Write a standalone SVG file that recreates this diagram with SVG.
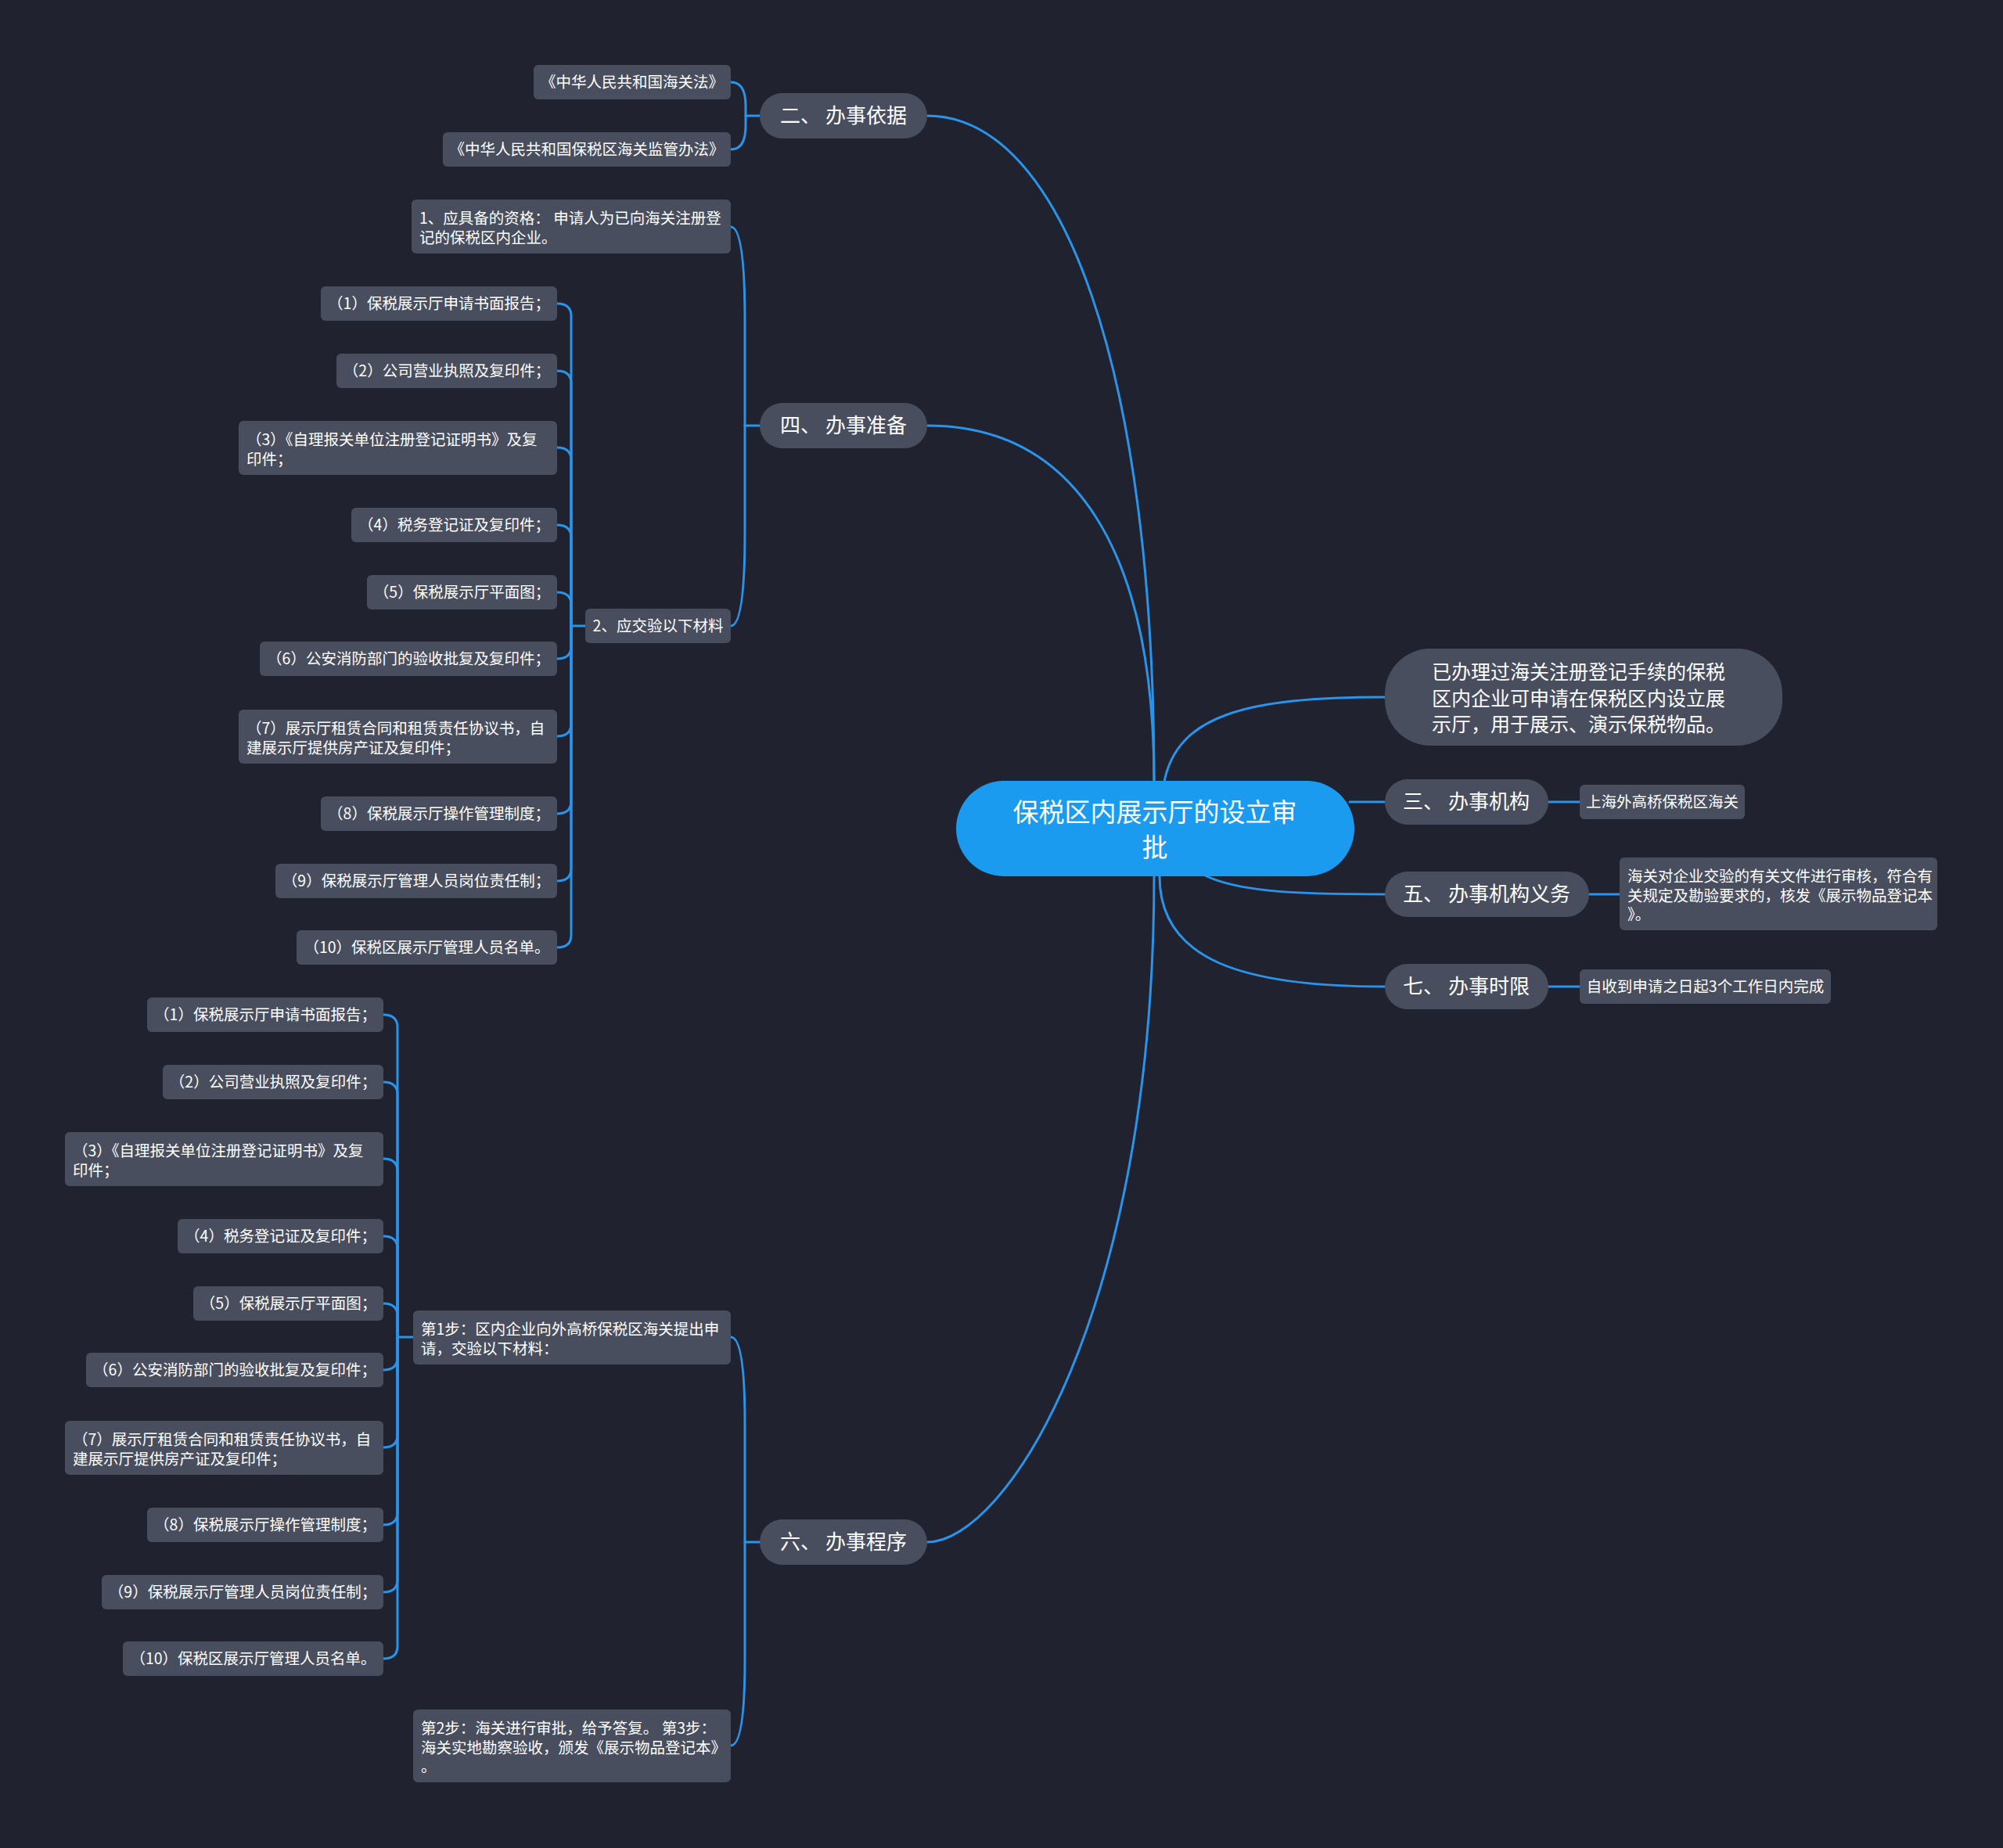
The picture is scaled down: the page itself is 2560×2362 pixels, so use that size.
<svg xmlns="http://www.w3.org/2000/svg" width="2560" height="2362" viewBox="0 0 2560 2362">
<style>
.bg{fill:#20232f}
.l1{fill:#484e5d}
.lf{fill:#484e5d}
.root{fill:#1a9bf0}
.ln{fill:none;stroke:#2a93ea;stroke-width:3;stroke-linecap:round}
text{font-family:"Noto Sans CJK SC","Noto Sans",sans-serif;fill:#ffffff}
.t1{font-size:26px;text-anchor:middle}
.tl{font-size:19.5px;text-anchor:middle}
.tm{font-size:19.5px}
.tr{font-size:33px;text-anchor:middle}
.ts{font-size:25px}
</style>
<rect class="bg" x="0" y="0" width="2560" height="2362"/>

<g id="connectors">
  <!-- root to level 1 -->
  <path class="ln" d="M1475 999 C1475 480 1360 148 1185 148"/>
  <path class="ln" d="M1475 999 C1475 705 1374 544 1185 544"/>
  <path class="ln" d="M1475 1120 C1475 1673 1287 1971 1185 1971"/>
  <path class="ln" d="M1488 999 C1505 915 1590 891 1770 891"/>
  <path class="ln" d="M1725 1025 L1770 1025"/>
  <path class="ln" d="M1540 1119 C1580 1138 1640 1143 1770 1143"/>
  <path class="ln" d="M1482 1120 C1482 1228 1590 1261 1770 1261"/>
  <!-- right leaves -->
  <path class="ln" d="M1979 1025 L2019 1025"/>
  <path class="ln" d="M2031 1143 L2070 1143"/>
  <path class="ln" d="M1979 1261 L2019 1261"/>
  <!-- 二 group -->
  <path class="ln" d="M971 148 L953 148"/>
  <path class="ln" d="M953 148 L953 135 Q953 105 934 105"/>
  <path class="ln" d="M953 148 L953 161 Q953 191 934 191"/>
  <!-- 四 group -->
  <path class="ln" d="M971 544 L952 544"/>
  <path class="ln" d="M952 544 L952 410 Q952 290 934 290"/>
  <path class="ln" d="M952 544 L952 680 Q952 800 934 800"/>
  <!-- 2、材料 group -->
  <path class="ln" d="M748 800 L730 800"/>
  <path class="ln" d="M730 800 L730 404 Q730 388 712 388"/>
  <path class="ln" d="M730 800 L730 490 Q730 474 712 474"/>
  <path class="ln" d="M730 800 L730 588 Q730 572 712 572"/>
  <path class="ln" d="M730 800 L730 687 Q730 671 712 671"/>
  <path class="ln" d="M730 800 L730 773 Q730 757 712 757"/>
  <path class="ln" d="M730 800 L730 826 Q730 842 712 842"/>
  <path class="ln" d="M730 800 L730 925 Q730 941 712 941"/>
  <path class="ln" d="M730 800 L730 1024 Q730 1040 712 1040"/>
  <path class="ln" d="M730 800 L730 1110 Q730 1126 712 1126"/>
  <path class="ln" d="M730 800 L730 1195 Q730 1211 712 1211"/>
  <!-- 六 group -->
  <path class="ln" d="M971 1971 L952 1971"/>
  <path class="ln" d="M952 1971 L952 1819 Q952 1709 934 1709"/>
  <path class="ln" d="M952 1971 L952 2121 Q952 2231 934 2231"/>
  <!-- 第1步 group -->
  <path class="ln" d="M528 1709 L508 1709"/>
  <path class="ln" d="M508 1709 L508 1313 Q508 1297 490 1297"/>
  <path class="ln" d="M508 1709 L508 1399 Q508 1383 490 1383"/>
  <path class="ln" d="M508 1709 L508 1497 Q508 1481 490 1481"/>
  <path class="ln" d="M508 1709 L508 1596 Q508 1580 490 1580"/>
  <path class="ln" d="M508 1709 L508 1682 Q508 1666 490 1666"/>
  <path class="ln" d="M508 1709 L508 1735 Q508 1751 490 1751"/>
  <path class="ln" d="M508 1709 L508 1834 Q508 1850 490 1850"/>
  <path class="ln" d="M508 1709 L508 1933 Q508 1949 490 1949"/>
  <path class="ln" d="M508 1709 L508 2019 Q508 2035 490 2035"/>
  <path class="ln" d="M508 1709 L508 2104 Q508 2120 490 2120"/>
</g>

<g id="root">
  <rect class="root" x="1222" y="998" width="509" height="122" rx="61"/>
  <text class="tr" x="1476" y="1050">保税区内展示厅的设立审</text>
  <text class="tr" x="1476" y="1095">批</text>
</g>

<g id="summary">
  <rect class="l1" x="1770" y="829" width="508" height="124" rx="58"/>
  <text class="ts" x="1830" y="868">已办理过海关注册登记手续的保税</text>
  <text class="ts" x="1830" y="902">区内企业可申请在保税区内设立展</text>
  <text class="ts" x="1830" y="935">示厅，用于展示、演示保税物品。</text>
</g>

<g id="n2">
  <rect class="l1" x="971" y="119" width="214" height="58" rx="29"/>
  <text class="t1" x="1078" y="157">二、 办事依据</text>
</g>
<g id="n4">
  <rect class="l1" x="971" y="515" width="214" height="58" rx="29"/>
  <text class="t1" x="1078" y="553">四、 办事准备</text>
</g>
<g id="n6">
  <rect class="l1" x="971" y="1942" width="214" height="58" rx="29"/>
  <text class="t1" x="1078" y="1980">六、 办事程序</text>
</g>
<g id="n3">
  <rect class="l1" x="1770" y="996" width="209" height="58" rx="29"/>
  <text class="t1" x="1874" y="1034">三、 办事机构</text>
</g>
<g id="n5">
  <rect class="l1" x="1770" y="1114" width="261" height="58" rx="29"/>
  <text class="t1" x="1900" y="1152">五、 办事机构义务</text>
</g>
<g id="n7">
  <rect class="l1" x="1770" y="1232" width="209" height="58" rx="29"/>
  <text class="t1" x="1874" y="1270">七、 办事时限</text>
</g>

<g id="n3-1">
  <rect class="lf" x="2019" y="1003" width="211" height="44" rx="6"/>
  <text class="tl" x="2124.5" y="1032">上海外高桥保税区海关</text>
</g>
<g id="n5-1">
  <rect class="lf" x="2070" y="1096" width="406" height="93" rx="6"/>
  <text class="tm" x="2080" y="1127">海关对企业交验的有关文件进行审核，符合有</text>
  <text class="tm" x="2080" y="1151.5">关规定及勘验要求的，核发《展示物品登记本</text>
  <text class="tm" x="2080" y="1176">》。</text>
</g>
<g id="n7-1">
  <rect class="lf" x="2019" y="1239" width="321" height="44" rx="6"/>
  <text class="tl" x="2179.5" y="1268">自收到申请之日起3个工作日内完成</text>
</g>

<g id="n2-1">
  <rect class="lf" x="682" y="83" width="252" height="44" rx="6"/>
  <text class="tl" x="808" y="112">《中华人民共和国海关法》</text>
</g>
<g id="n2-2">
  <rect class="lf" x="566" y="169" width="368" height="44" rx="6"/>
  <text class="tl" x="750" y="198">《中华人民共和国保税区海关监管办法》</text>
</g>

<g id="n4-1">
  <rect class="lf" x="526" y="255" width="408" height="69" rx="6"/>
  <text class="tm" x="536" y="286">1、应具备的资格： 申请人为已向海关注册登</text>
  <text class="tm" x="536" y="310.5">记的保税区内企业。</text>
</g>
<g id="n4-2">
  <rect class="lf" x="748" y="778" width="186" height="44" rx="6"/>
  <text class="tl" x="841" y="807">2、应交验以下材料</text>
</g>

<g id="a1"><rect class="lf" x="410" y="366" width="302" height="44" rx="6"/><text class="tl" x="561" y="395">（1）保税展示厅申请书面报告；</text></g>
<g id="a2"><rect class="lf" x="430" y="452" width="282" height="44" rx="6"/><text class="tl" x="571" y="481">（2）公司营业执照及复印件；</text></g>
<g id="a3"><rect class="lf" x="305" y="538" width="407" height="69" rx="6"/><text class="tm" x="315" y="569">（3）《自理报关单位注册登记证明书》及复</text><text class="tm" x="315" y="593.5">印件；</text></g>
<g id="a4"><rect class="lf" x="449" y="649" width="263" height="44" rx="6"/><text class="tl" x="580.5" y="678">（4）税务登记证及复印件；</text></g>
<g id="a5"><rect class="lf" x="469" y="735" width="243" height="44" rx="6"/><text class="tl" x="590.5" y="764">（5）保税展示厅平面图；</text></g>
<g id="a6"><rect class="lf" x="332" y="820" width="380" height="44" rx="6"/><text class="tl" x="522" y="849">（6）公安消防部门的验收批复及复印件；</text></g>
<g id="a7"><rect class="lf" x="305" y="907" width="407" height="69" rx="6"/><text class="tm" x="315" y="938">（7）展示厅租赁合同和租赁责任协议书，自</text><text class="tm" x="315" y="962.5">建展示厅提供房产证及复印件；</text></g>
<g id="a8"><rect class="lf" x="410" y="1018" width="302" height="44" rx="6"/><text class="tl" x="561" y="1047">（8）保税展示厅操作管理制度；</text></g>
<g id="a9"><rect class="lf" x="352" y="1104" width="360" height="44" rx="6"/><text class="tl" x="532" y="1133">（9）保税展示厅管理人员岗位责任制；</text></g>
<g id="a10"><rect class="lf" x="379" y="1189" width="333" height="44" rx="6"/><text class="tl" x="545.5" y="1218">（10）保税区展示厅管理人员名单。</text></g>

<g id="n6-1">
  <rect class="lf" x="528" y="1675" width="406" height="69" rx="6"/>
  <text class="tm" x="538" y="1706">第1步：区内企业向外高桥保税区海关提出申</text>
  <text class="tm" x="538" y="1730.5">请，交验以下材料：</text>
</g>
<g id="n6-2">
  <rect class="lf" x="528" y="2185" width="406" height="93" rx="6"/>
  <text class="tm" x="538" y="2216">第2步：海关进行审批，给予答复。 第3步：</text>
  <text class="tm" x="538" y="2240.5">海关实地勘察验收，颁发《展示物品登记本》</text>
  <text class="tm" x="538" y="2265">。</text>
</g>

<g id="b1"><rect class="lf" x="188" y="1275" width="302" height="44" rx="6"/><text class="tl" x="339" y="1304">（1）保税展示厅申请书面报告；</text></g>
<g id="b2"><rect class="lf" x="208" y="1361" width="282" height="44" rx="6"/><text class="tl" x="349" y="1390">（2）公司营业执照及复印件；</text></g>
<g id="b3"><rect class="lf" x="83" y="1447" width="407" height="69" rx="6"/><text class="tm" x="93" y="1478">（3）《自理报关单位注册登记证明书》及复</text><text class="tm" x="93" y="1502.5">印件；</text></g>
<g id="b4"><rect class="lf" x="227" y="1558" width="263" height="44" rx="6"/><text class="tl" x="358.5" y="1587">（4）税务登记证及复印件；</text></g>
<g id="b5"><rect class="lf" x="247" y="1644" width="243" height="44" rx="6"/><text class="tl" x="368.5" y="1673">（5）保税展示厅平面图；</text></g>
<g id="b6"><rect class="lf" x="110" y="1729" width="380" height="44" rx="6"/><text class="tl" x="300" y="1758">（6）公安消防部门的验收批复及复印件；</text></g>
<g id="b7"><rect class="lf" x="83" y="1816" width="407" height="69" rx="6"/><text class="tm" x="93" y="1847">（7）展示厅租赁合同和租赁责任协议书，自</text><text class="tm" x="93" y="1871.5">建展示厅提供房产证及复印件；</text></g>
<g id="b8"><rect class="lf" x="188" y="1927" width="302" height="44" rx="6"/><text class="tl" x="339" y="1956">（8）保税展示厅操作管理制度；</text></g>
<g id="b9"><rect class="lf" x="130" y="2013" width="360" height="44" rx="6"/><text class="tl" x="310" y="2042">（9）保税展示厅管理人员岗位责任制；</text></g>
<g id="b10"><rect class="lf" x="157" y="2098" width="333" height="44" rx="6"/><text class="tl" x="323.5" y="2127">（10）保税区展示厅管理人员名单。</text></g>
</svg>
